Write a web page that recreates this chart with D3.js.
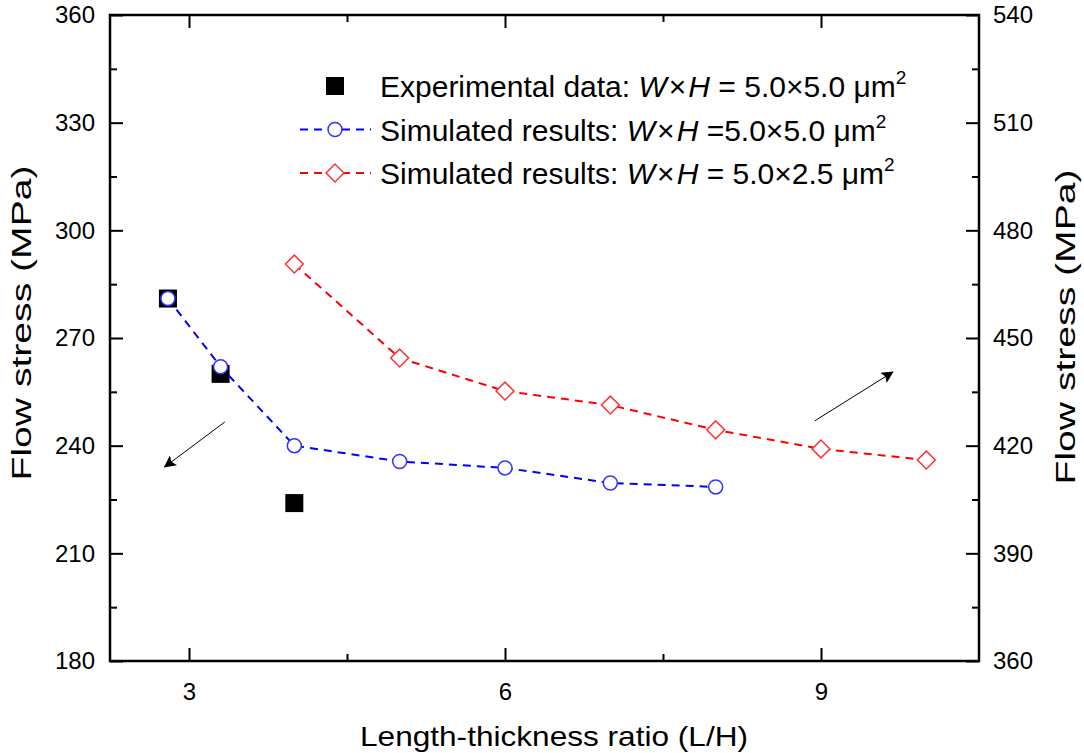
<!DOCTYPE html>
<html>
<head>
<meta charset="utf-8">
<script src="https://cdn.jsdelivr.net/npm/d3@7"></script>
<style>
  body { margin: 0; background: #fff; }
  text { font-family: "Liberation Sans", Arial, sans-serif; fill: #000; }
</style>
</head>
<body>
<script>
// data
var expX = [2.8, 3.3, 4];
var expY = [281, 260, 224];

var sim55X = [2.8, 3.3, 4, 5, 6, 7, 8];
var sim55Y = [281, 262, 240, 235.6, 233.8, 229.6, 228.5];

var sim525X = [4, 5, 6, 7, 8, 9, 10];
var sim525Y = [470.6, 444.4, 435.2, 431.3, 424.4, 419.1, 416];

var xTicks = [3, 6, 9];
var yLeftTicks = [180, 210, 240, 270, 300, 330, 360];
var yRightTicks = [360, 390, 420, 450, 480, 510, 540];

// arrows: [x1, y1, x2, y2] in data units of their axis
var arrowLeft = [3.34, 246.6, 2.77, 234.1];
var arrowRight = [8.94, 426.9, 9.68, 440.5];

var W = 1084, H = 753;
var margin = {top: 15, right: 105, bottom: 92, left: 110},
    width = W - margin.left - margin.right,
    height = H - margin.top - margin.bottom;

var svg = d3.select("body").append("svg")
    .attr("width", W)
    .attr("height", H);

var defs = svg.append("defs");
defs.append("marker")
    .attr("id", "arrow")
    .attr("viewBox", "0 0 10 10")
    .attr("refX", 9).attr("refY", 5)
    .attr("markerWidth", 16).attr("markerHeight", 12)
    .attr("markerUnits", "userSpaceOnUse")
    .attr("orient", "auto")
  .append("path")
    .attr("d", "M0,0 L10,5 L0,10 L2,5 Z")
    .attr("fill", "#000");

var g = svg.append("g")
    .attr("transform", "translate(" + margin.left + "," + margin.top + ")");

var x = d3.scaleLinear().domain([2.25, 10.5]).range([0, width]);
var yL = d3.scaleLinear().domain([180, 360]).range([height, 0]);
var yR = d3.scaleLinear().domain([360, 540]).range([height, 0]);

// minor ticks
var xMinor = [4.5, 7.5];
var yLMinor = d3.range(195, 360, 30);
var yRMinor = d3.range(375, 540, 30);

function styleAxis(sel) {
  sel.select(".domain").remove();
  sel.selectAll("line").attr("stroke", "#000").attr("stroke-width", 2);
}

// bottom
g.append("g").attr("transform", "translate(0," + height + ")")
  .call(d3.axisBottom(x).tickValues(xTicks).tickSize(-13).tickPadding(22).tickFormat(d3.format("d")))
  .call(styleAxis)
  .selectAll("text").attr("font-size", 24).attr("dy", "0.71em");
g.append("g").attr("transform", "translate(0," + height + ")")
  .call(d3.axisBottom(x).tickValues(xMinor).tickSize(-7).tickFormat(""))
  .call(styleAxis);
// top
g.append("g")
  .call(d3.axisTop(x).tickValues(xTicks).tickSize(-13).tickFormat(""))
  .call(styleAxis);
g.append("g")
  .call(d3.axisTop(x).tickValues(xMinor).tickSize(-7).tickFormat(""))
  .call(styleAxis);
// left
g.append("g")
  .call(d3.axisLeft(yL).tickValues(yLeftTicks).tickSize(-13).tickPadding(15).tickFormat(d3.format("d")))
  .call(styleAxis)
  .selectAll("text").attr("font-size", 24);
g.append("g")
  .call(d3.axisLeft(yL).tickValues(yLMinor).tickSize(-7).tickFormat(""))
  .call(styleAxis);
// right
g.append("g").attr("transform", "translate(" + width + ",0)")
  .call(d3.axisRight(yR).tickValues(yRightTicks).tickSize(-13).tickPadding(14).tickFormat(d3.format("d")))
  .call(styleAxis)
  .selectAll("text").attr("font-size", 24);
g.append("g").attr("transform", "translate(" + width + ",0)")
  .call(d3.axisRight(yR).tickValues(yRMinor).tickSize(-7).tickFormat(""))
  .call(styleAxis);

// frame
g.append("rect")
  .attr("width", width).attr("height", height)
  .attr("fill", "none").attr("stroke", "#000").attr("stroke-width", 2.5);

// axis titles
svg.append("text")
  .attr("x", 554).attr("y", 746)
  .attr("text-anchor", "middle").attr("font-size", 28)
  .attr("textLength", 388).attr("lengthAdjust", "spacingAndGlyphs")
  .text("Length-thickness ratio (L/H)");
svg.append("text")
  .attr("transform", "translate(31,323) rotate(-90)")
  .attr("text-anchor", "middle").attr("font-size", 27)
  .attr("textLength", 315).attr("lengthAdjust", "spacingAndGlyphs")
  .text("Flow stress (MPa)");
svg.append("text")
  .attr("transform", "translate(1075,327) rotate(-90)")
  .attr("text-anchor", "middle").attr("font-size", 27)
  .attr("textLength", 315).attr("lengthAdjust", "spacingAndGlyphs")
  .text("Flow stress (MPa)");

// lines
var exp = expX.map(function(d, i) { return {x: d, y: expY[i]}; });
var s55 = sim55X.map(function(d, i) { return {x: d, y: sim55Y[i]}; });
var s525 = sim525X.map(function(d, i) { return {x: d, y: sim525Y[i]}; });

g.append("path").datum(s525)
  .attr("fill", "none").attr("stroke", "#ff0000").attr("stroke-width", 2)
  .attr("stroke-dasharray", "8,6")
  .attr("d", d3.line().x(function(d) { return x(d.x); }).y(function(d) { return yR(d.y); }));

// experimental squares
g.selectAll(".exp").data(exp).enter().append("rect")
  .attr("x", function(d) { return x(d.x) - 9; })
  .attr("y", function(d) { return yL(d.y) - 9; })
  .attr("width", 18).attr("height", 18)
  .attr("fill", "#000");

g.append("path").datum(s55)
  .attr("fill", "none").attr("stroke", "#0000ff").attr("stroke-width", 2)
  .attr("stroke-dasharray", "8,6")
  .attr("d", d3.line().x(function(d) { return x(d.x); }).y(function(d) { return yL(d.y); }));

g.selectAll(".c55").data(s55).enter().append("circle")
  .attr("cx", function(d) { return x(d.x); })
  .attr("cy", function(d) { return yL(d.y); })
  .attr("r", 7)
  .attr("fill", "#fff").attr("stroke", "#3333ff").attr("stroke-width", 1.5);

var diamond = d3.symbol().type(d3.symbolSquare).size(160);
g.selectAll(".d525").data(s525).enter().append("path")
  .attr("d", diamond)
  .attr("transform", function(d) { return "translate(" + x(d.x) + "," + yR(d.y) + ") rotate(45)"; })
  .attr("fill", "#fff").attr("stroke", "#ff3333").attr("stroke-width", 1.5);

// arrows
g.append("line")
  .attr("x1", x(arrowLeft[0])).attr("y1", yL(arrowLeft[1]))
  .attr("x2", x(arrowLeft[2])).attr("y2", yL(arrowLeft[3]))
  .attr("stroke", "#000").attr("stroke-width", 1).attr("marker-end", "url(#arrow)");
g.append("line")
  .attr("x1", x(arrowRight[0])).attr("y1", yR(arrowRight[1]))
  .attr("x2", x(arrowRight[2])).attr("y2", yR(arrowRight[3]))
  .attr("stroke", "#000").attr("stroke-width", 1).attr("marker-end", "url(#arrow)");

// legend
var legendRows = [
  {label: "Experimental data: ", dims: " = 5.0\u00d75.0 \u03bcm", kind: "square"},
  {label: "Simulated results: ", dims: " =5.0\u00d75.0 \u03bcm", kind: "circle"},
  {label: "Simulated results: ", dims: " = 5.0\u00d72.5 \u03bcm", kind: "diamond"}
];
var lg = svg.append("g");
legendRows.forEach(function(r, i) {
  var cy = 86 + i * 43.5;
  if (r.kind === "square") {
    lg.append("rect").attr("x", 326).attr("y", cy - 9).attr("width", 18).attr("height", 18).attr("fill", "#000");
  } else {
    var col = r.kind === "circle" ? "#0000ff" : "#ff0000";
    lg.append("line").attr("x1", 300).attr("x2", 371).attr("y1", cy).attr("y2", cy)
      .attr("stroke", col).attr("stroke-width", 2).attr("stroke-dasharray", "8,6");
    if (r.kind === "circle") {
      lg.append("circle").attr("cx", 335).attr("cy", cy).attr("r", 7)
        .attr("fill", "#fff").attr("stroke", "#3333ff").attr("stroke-width", 1.5);
    } else {
      lg.append("path").attr("d", diamond)
        .attr("transform", "translate(335," + cy + ") rotate(45)")
        .attr("fill", "#fff").attr("stroke", "#ff3333").attr("stroke-width", 1.5);
    }
  }
  var t = lg.append("text").attr("x", 380).attr("y", cy + 11).attr("font-size", 30);
  t.append("tspan").text(r.label);
  t.append("tspan").attr("font-style", "italic").text("W");
  t.append("tspan").attr("dx", 2).text("\u00d7");
  t.append("tspan").attr("dx", 2).attr("font-style", "italic").text("H");
  t.append("tspan").text(r.dims);
  t.append("tspan").attr("font-size", 19).attr("dy", -13).text("2");
});
</script>
</body>
</html>
